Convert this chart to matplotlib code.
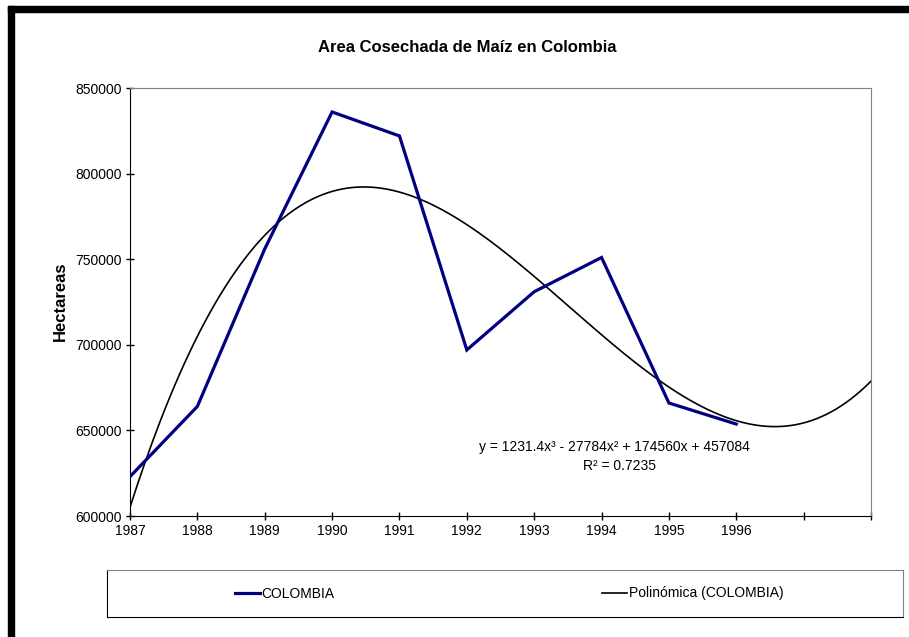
import numpy as np
import matplotlib
matplotlib.use('Agg')
import matplotlib.pyplot as plt
from matplotlib.patches import Rectangle

plt.rcParams['font.family'] = ['Liberation Sans', 'DejaVu Sans']

##### data #####
years = [1987, 1988, 1989, 1990, 1991, 1992, 1993, 1994, 1995, 1996]
area = [623000, 664000, 756000, 836000, 822000, 697000, 731000, 751000, 666000, 653700]
# cubic trend shown on the chart (x = 1 .. n)
trend_coef = [1231.4, -27784, 174560, 457084]
trend_r2 = 0.7235
xticks = list(range(1987, 1999))
xlabels = [str(y) if y <= 1996 else '' for y in xticks]
yticks = [600000, 650000, 700000, 750000, 800000, 850000]

fig = plt.figure(figsize=(9.09, 6.37), dpi=100)

# black frame on top and left
fig.patches.append(Rectangle((8/909, 0), 6/909, 1 - 6/637, transform=fig.transFigure,
                             color='black', zorder=0))
fig.patches.append(Rectangle((8/909, 1 - 12/637), 1, 6/637, transform=fig.transFigure,
                             color='black', zorder=0))

ax = fig.add_axes([130/909, 1 - 516/637, 741/909, 428/637])

ax.plot(years, area, color='#000080', lw=2.3, solid_joinstyle='miter',
        label='COLOMBIA', zorder=3)

xs = np.linspace(1, 12, 300)
ax.plot(xs + 1986, np.polyval(trend_coef, xs), color='black', lw=1.2,
        label='Polinómica (COLOMBIA)', zorder=2)

ax.set_xlim(1987, 1998)
ax.set_ylim(600000, 850000)
ax.set_xticks(xticks)
ax.set_xticklabels(xlabels)
ax.set_yticks(yticks)
ax.set_yticklabels([str(v) for v in yticks])
ax.tick_params(direction='inout', length=6, width=1, labelsize=10, colors='black', pad=3)

for s in ['top', 'right']:
    ax.spines[s].set_color('#808080')
for s in ['left', 'bottom']:
    ax.spines[s].set_color('black')

a, b, c, d = trend_coef
eq = 'y = %.1fx³ - %dx² + %dx + %d' % (a, abs(b), c, d)
ax.text(0.654, 0.162, eq, transform=ax.transAxes, ha='center', va='center', fontsize=10)
ax.text(0.660, 0.117, 'R² = %.4f' % trend_r2, transform=ax.transAxes,
        ha='center', va='center', fontsize=10)

fig.text(467/909, 1 - 47/637, 'Area Cosechada de Maíz en Colombia', ha='center', va='center',
         fontsize=12, fontweight='bold')
fig.text(60/909, 1 - 301/637, 'Hectareas', ha='center', va='center', rotation=90,
         fontsize=12, fontweight='bold')

# legend box at the bottom
lax = fig.add_axes([107/909, 1 - 617/637, 796/909, 47/637])
lax.set_xticks([])
lax.set_yticks([])
for s in ['top', 'right']:
    lax.spines[s].set_color('#808080')
for s in ['left', 'bottom']:
    lax.spines[s].set_color('black')
h, l = ax.get_legend_handles_labels()
lax.legend(h, l, loc='center', ncol=2, frameon=False, fontsize=10,
           handlelength=1.8, handletextpad=0.1, columnspacing=19.3,
           bbox_to_anchor=(0.505, 0.5))

fig.savefig('out.png', dpi=100)
